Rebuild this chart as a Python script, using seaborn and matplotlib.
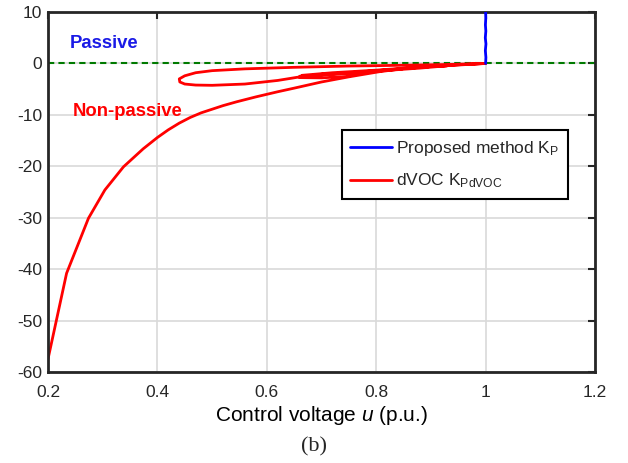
import numpy as np
import pandas as pd
import seaborn as sns
import matplotlib.pyplot as plt

# blue trace: proposed method, sits on u = 1
prop_u = [1.0, 1.0005, 0.9995, 1.0006, 0.9994, 1.0004, 0.9996, 1.0003, 1.0]
prop_k = [0.0, 1.2, 2.5, 3.8, 5.0, 6.3, 7.5, 8.8, 10.0]

# red trace: dVOC, main branch then the loops back to u = 1
dvoc_u = [0.2, 0.234, 0.274, 0.304, 0.338, 0.374, 0.40, 0.42, 0.44, 0.46, 0.48, 0.50,
          0.52, 0.545, 0.58, 0.62, 0.65, 0.70, 0.75, 0.806, 0.85, 0.90, 0.95, 1.0,
          0.93, 0.85, 0.75, 0.65, 0.56, 0.50, 0.47, 0.45, 0.44, 0.441, 0.45, 0.47,
          0.50, 0.56, 0.62, 0.655, 0.70, 0.74, 0.765, 0.75, 0.70, 0.66, 0.665, 0.72,
          0.80, 0.88, 0.93, 0.88, 0.80, 0.72, 0.66, 0.70, 0.80, 0.90, 1.0]
dvoc_k = [-57.5, -40.8, -30.1, -24.6, -20.1, -16.6, -14.4, -12.9, -11.6, -10.5, -9.6, -8.9,
          -8.2, -7.45, -6.5, -5.5, -4.8, -3.6, -2.6, -1.6, -1.0, -0.55, -0.25, 0.0,
          -0.2, -0.35, -0.5, -0.75, -1.05, -1.4, -1.8, -2.4, -3.0, -3.6, -4.0, -4.2,
          -4.25, -4.0, -3.3, -2.7, -2.1, -1.85, -2.0, -2.5, -2.8, -2.75, -2.3, -1.8,
          -1.3, -0.7, -0.45, -0.9, -1.5, -2.1, -2.5, -2.2, -1.4, -0.6, 0.0]

xticks = [0.2, 0.4, 0.6, 0.8, 1.0, 1.2]
xtick_labels = ['0.2', '0.4', '0.6', '0.8', '1', '1.2']
yticks = [-60, -50, -40, -30, -20, -10, 0, 10]

sns.set_style('whitegrid')
plt.rcParams['font.family'] = ['Liberation Sans', 'DejaVu Sans']
plt.rcParams['mathtext.fontset'] = 'custom'
plt.rcParams['mathtext.rm'] = 'Liberation Sans'
plt.rcParams['mathtext.it'] = 'Liberation Sans:italic'
plt.rcParams['axes.unicode_minus'] = False

fig, ax = plt.subplots(figsize=(6.28, 4.63), dpi=100)
fig.subplots_adjust(left=0.0764, right=0.9475, top=0.974, bottom=0.1965)

prop = pd.DataFrame({'u': prop_u, 'k': prop_k})
dvoc = pd.DataFrame({'u': dvoc_u, 'k': dvoc_k})

ax.axhline(0, color='#007a00', linestyle=(0, (3, 2)), linewidth=1.5, zorder=1)
sns.lineplot(data=prop, x='u', y='k', sort=False, estimator=None, color='#0000ff',
             linewidth=2, label=r'Proposed method K$_{\mathregular{P}}$', ax=ax, zorder=3)
sns.lineplot(data=dvoc, x='u', y='k', sort=False, estimator=None, color='#ff0000',
             linewidth=2, label=r'dVOC K$_{\mathregular{PdVOC}}$', ax=ax, zorder=2)

ax.set_xlim(0.2, 1.2)
ax.set_ylim(-60, 10)
ax.set_xticks(xticks)
ax.set_xticklabels(xtick_labels)
ax.set_yticks(yticks)
ax.grid(True, color='#d9d9d9', linewidth=1.2)
ax.tick_params(axis='both', direction='in', length=5, width=1.5, colors='#262626',
               labelsize=12.5, top=True, right=True, labelcolor='#262626')
ax.tick_params(axis='x', pad=9)
ax.tick_params(axis='y', pad=4)
for s in ax.spines.values():
    s.set_color('#262626')
    s.set_linewidth(2)

ax.set_xlabel(r'Control voltage $\mathit{u}$ (p.u.)', fontsize=15, color='black',
              labelpad=3)
ax.set_ylabel('')

ax.text(0.24, 3.8, 'Passive', color='#1a1ae6', fontsize=13.3, fontweight='bold',
        va='center')
ax.text(0.245, -9.3, 'Non-passive', color='#ff0000', fontsize=13.3, fontweight='bold',
        va='center')

leg = ax.legend(loc='upper right', bbox_to_anchor=(0.951, 0.672), fontsize=12.5,
                frameon=True, fancybox=False, framealpha=1, edgecolor='black',
                handlelength=2.4, handletextpad=0.25, borderpad=0.5,
                labelspacing=0.8, borderaxespad=0)
leg.get_frame().set_linewidth(1.5)

fig.text(0.5, 0.0346, '(b)', fontsize=16, family='Liberation Serif', ha='center',
         va='center')

fig.savefig('out.png', dpi=100)
